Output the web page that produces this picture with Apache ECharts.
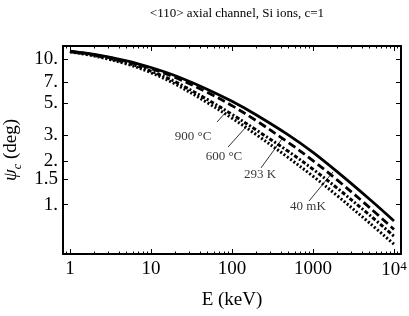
<!DOCTYPE html>
<html><head><meta charset="utf-8">
<script src="https://cdn.jsdelivr.net/npm/echarts@6/dist/echarts.min.js"></script>
<style>html,body{margin:0;padding:0;background:#fff}#c{width:409px;height:316px}</style>
</head><body><div id="c"></div>
<script>
// ---- data ----
const energies = [1, 2, 5, 10, 20, 50, 100, 200, 500, 1000, 2000, 5000, 10000];
const psi40mK = [11.40, 10.81, 9.77, 8.79, 7.71, 6.21, 5.14, 4.14, 3.01, 2.29, 1.68, 1.089, 0.773];
const psi293K = [11.35, 10.74, 9.66, 8.63, 7.50, 5.92, 4.80, 3.78, 2.67, 2.01, 1.476, 0.955, 0.676];
const psi600C = [11.30, 10.64, 9.46, 8.30, 7.00, 5.28, 4.18, 3.26, 2.32, 1.754, 1.297, 0.849, 0.607];
const psi900C = [11.25, 10.54, 9.29, 8.09, 6.75, 5.02, 3.94, 3.03, 2.10, 1.57, 1.151, 0.748, 0.535];

const xTickVals = [1, 10, 100, 1000, 10000];
const xTickLabels = ['1', '10', '100', '1000', '{b|10}{s|4}'];
const xMinorVals = [0.9, 2, 3, 4, 5, 6, 7, 8, 9, 20, 30, 40, 50, 60, 70, 80, 90,
  200, 300, 400, 500, 600, 700, 800, 900, 2000, 3000, 4000, 5000, 6000, 7000, 8000, 9000, 11000, 12000];
const yTickVals = [1, 1.5, 2, 3, 5, 7, 10];
const yTickLabels = ['1.', '1.5', '2.', '3.', '5.', '7.', '10.'];

const labelTexts = ['900 °C', '600 °C', '293 K', '40 mK'];
const labelE = [33.0, 79.6, 222, 867];
const labelPsi = [2.92, 2.16, 1.60, 0.964];
const leaderStart = [[65.3, 3.70], [89.3, 2.49], [228, 1.79], [893, 1.06]];
const leaderEnd = [[82.0, 4.27], [153, 3.48], [414, 2.83], [1766, 1.68]];

// ---- chart ----
const SERIF = '"Liberation Serif","DejaVu Serif",serif';
const X_MIN = 0.82, X_MAX = 12200, Y_MIN = 0.458, Y_MAX = 12.35;

function pick(vals, labels, v) {
  for (let i = 0; i < vals.length; i++) {
    if (Math.abs(vals[i] - v) / vals[i] < 1e-4) return labels[i];
  }
  return '';
}
const axisLineStyle = { show: true, lineStyle: { color: '#000', width: 2 } };

function xAx(pos, ticks, len, labels) {
  return {
    type: 'log', logBase: 10, min: X_MIN, max: X_MAX, position: pos,
    axisLine: axisLineStyle,
    axisTick: { show: true, inside: true, length: len, customValues: ticks, lineStyle: { color: '#000', width: 1 } },
    axisLabel: labels ? {
      show: true, customValues: xTickVals, margin: 6,
      formatter: v => pick(xTickVals, xTickLabels, v),
      fontFamily: SERIF, fontSize: 19, color: '#000',
      rich: { b: { fontFamily: SERIF, fontSize: 19, color: '#000' },
              s: { fontFamily: SERIF, fontSize: 13, color: '#000', verticalAlign: 'top', padding: [0, 0, 8, 0] } }
    } : { show: false },
    splitLine: { show: false }, minorTick: { show: false }
  };
}
function yAx(pos, labels) {
  return {
    type: 'log', logBase: 10, min: Y_MIN, max: Y_MAX, position: pos,
    axisLine: axisLineStyle,
    axisTick: { show: true, inside: true, length: 5, customValues: yTickVals, lineStyle: { color: '#000', width: 1 } },
    axisLabel: labels ? {
      show: true, customValues: yTickVals, margin: 5,
      formatter: v => pick(yTickVals, yTickLabels, v),
      fontFamily: SERIF, fontSize: 19, color: '#000'
    } : { show: false },
    splitLine: { show: false }
  };
}

const xb = xAx('bottom', xTickVals, 5, true);
xb.name = 'E (keV)'; xb.nameLocation = 'middle'; xb.nameGap = 37;
xb.nameTextStyle = { fontFamily: SERIF, fontSize: 19, color: '#000' };
const yl = yAx('left', true);
yl.name = '{p|ψ}{c|c}{n| (deg)}'; yl.nameLocation = 'middle'; yl.nameGap = 30;
yl.nameTextStyle = {
  fontFamily: SERIF, fontSize: 19, color: '#000', lineHeight: 24,
  rich: {
    p: { fontFamily: SERIF, fontSize: 19, fontStyle: 'italic', color: '#000', lineHeight: 24 },
    c: { fontFamily: SERIF, fontSize: 12, fontStyle: 'italic', color: '#000', verticalAlign: 'bottom', lineHeight: 24 },
    n: { fontFamily: SERIF, fontSize: 19, color: '#000', lineHeight: 24 }
  }
};

function lineSeries(name, vals, width, type) {
  return {
    name, type: 'line', xAxisIndex: 0, yAxisIndex: 0,
    data: energies.map((e, i) => [e, vals[i]]),
    showSymbol: false, symbol: 'none', smooth: 0.35, silent: true,
    lineStyle: { color: '#000', width, type, cap: 'butt' }
  };
}

const chart = echarts.init(document.getElementById('c'), null, { renderer: 'canvas' });
chart.setOption({
  animation: false,
  backgroundColor: '#fff',
  title: {
    text: '<110> axial channel, Si ions, c=1', left: 232, textAlign: 'center', top: 2,
    textStyle: { fontFamily: SERIF, fontSize: 13, fontWeight: 'normal', color: '#000' }
  },
  grid: { left: 63, right: 8, top: 46, bottom: 62, containLabel: false, outerBoundsMode: 'none' },
  xAxis: [xb, xAx('bottom', xMinorVals, 2.5, false), xAx('top', xTickVals, 5, false), xAx('top', xMinorVals, 2.5, false)],
  yAxis: [yl, yAx('right', false)],
  series: [
    lineSeries('40 mK', psi40mK, 2.8, 'solid'),
    lineSeries('293 K', psi293K, 2.8, [8, 4]),
    lineSeries('600 °C', psi600C, 3, [4, 2, 2, 2]),
    lineSeries('900 °C', psi900C, 3, [2, 2]),
    {
      type: 'scatter', xAxisIndex: 0, yAxisIndex: 0, silent: true,
      data: labelE.map((e, i) => ({ value: [e, labelPsi[i]], name: labelTexts[i] })),
      symbolSize: 1, itemStyle: { color: 'rgba(0,0,0,0)' },
      label: { show: true, position: 'inside', formatter: p => p.name,
               fontFamily: SERIF, fontSize: 13, color: '#000' },
      markLine: {
        silent: true, symbol: ['none', 'none'], animation: false,
        label: { show: false },
        lineStyle: { color: '#000', width: 0.8, type: 'solid' },
        data: leaderStart.map((s, i) => [{ coord: s }, { coord: leaderEnd[i] }])
      }
    }
  ]
});
</script></body></html>
